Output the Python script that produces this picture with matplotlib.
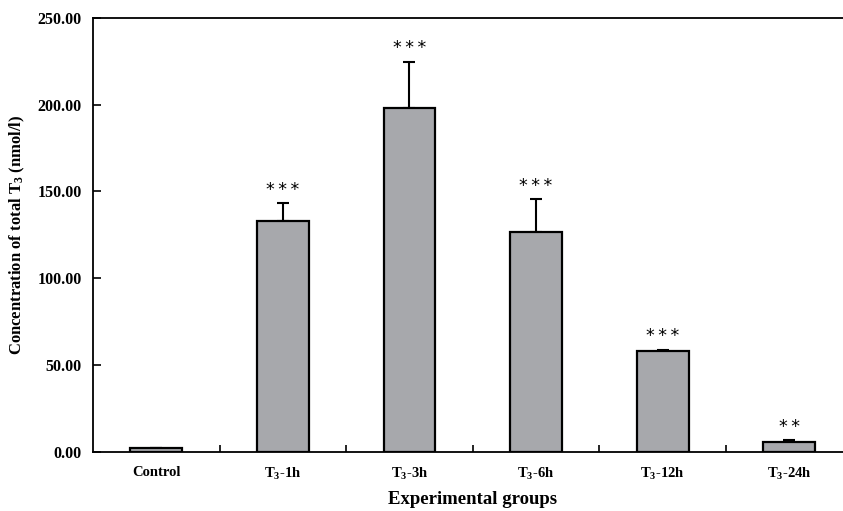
import matplotlib
matplotlib.use("Agg")
import matplotlib.pyplot as plt
import numpy as np

# values
groups = ['Control', 'T$_3$-1h', 'T$_3$-3h', 'T$_3$-6h', 'T$_3$-12h', 'T$_3$-24h']
means = [1.9, 133.0, 198.0, 126.6, 58.3, 5.8]
sems = [0.5, 10.2, 26.8, 19.1, 0.6, 1.1]
stars = ['', '***', '***', '***', '***', '**']

plt.rcParams['font.family'] = ['Liberation Serif', 'DejaVu Serif']
plt.rcParams['font.weight'] = 'bold'
plt.rcParams['mathtext.fontset'] = 'custom'
plt.rcParams['mathtext.rm'] = 'Liberation Serif:bold'
plt.rcParams['mathtext.bf'] = 'Liberation Serif:bold'
plt.rcParams['mathtext.it'] = 'Liberation Serif:italic:bold'
plt.rcParams['mathtext.default'] = 'rm'

fig = plt.figure(figsize=(8.43, 5.11), dpi=100)
ax = fig.add_axes([0.1103, 0.116, 0.901, 0.849])

x = np.arange(len(groups))
ax.bar(x, means, width=0.41, color='#a7a8ac', edgecolor='black', linewidth=1.6, zorder=2)
ax.errorbar(x, means, yerr=[np.zeros(len(sems)), sems], fmt='none', ecolor='black',
            elinewidth=1.5, capsize=4, capthick=1.5, zorder=1)

# significance marks above the error bars
for xi, m, s, st in zip(x, means, sems, stars):
    if st:
        ax.annotate('\u2009'.join(st), (xi, m + s), xytext=(0, 3), textcoords='offset points',
                    ha='center', va='bottom', fontsize=12.5, fontweight='normal',
                    family=['DejaVu Sans'])

ax.set_xlim(-0.5, 5.5)
ax.set_ylim(0, 250)
ax.set_yticks(np.arange(0, 251, 50))
ax.set_yticklabels(['%.2f' % v for v in np.arange(0, 251, 50)], fontsize=11.5, fontweight='bold')
ax.set_xticks(x)
ax.set_xticklabels(groups, fontsize=10.5, fontweight='bold')
ax.set_xticks(np.arange(0.5, 5.5, 1), minor=True)
ax.tick_params(axis='x', which='major', length=0, pad=10)
ax.tick_params(axis='x', which='minor', direction='in', length=5, width=1.2)
ax.tick_params(axis='y', direction='in', length=6, width=1.2, pad=8)
for sp in ax.spines.values():
    sp.set_linewidth(1.3)

ax.set_xlabel('Experimental groups', fontsize=13.5, fontweight='bold')
ax.set_ylabel('Concentration of total T$_3$ (nmol/l)', fontsize=12, fontweight='bold')
ax.xaxis.set_label_coords(0.5, -0.09)
ax.yaxis.set_label_coords(-0.087, 0.5)

fig.savefig('out.png', dpi=100)
